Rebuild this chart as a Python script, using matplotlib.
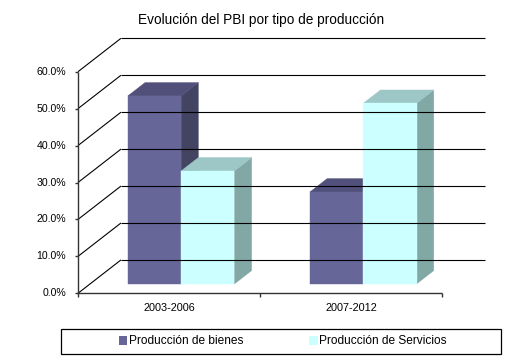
import matplotlib
matplotlib.use('Agg')
import matplotlib.pyplot as plt
from matplotlib.patches import Polygon, Rectangle, Patch

plt.rcParams['font.family'] = ['Liberation Sans', 'DejaVu Sans']

title = "Evolución del PBI por tipo de producción"
categories = ["2003-2006", "2007-2012"]
series_names = ["Producción de bienes", "Producción de Servicios"]
bienes = [50.9, 24.9]
servicios = [30.6, 48.9]
yticks = [0, 10, 20, 30, 40, 50, 60]
ytick_labels = ["0.0%", "10.0%", "20.0%", "30.0%", "40.0%", "50.0%", "60.0%"]

front_colors = ['#666699', '#CCFFFF']
top_colors = ['#50507A', '#9CC7C6']
side_colors = ['#434362', '#82A8A6']

W, H = 528, 359
fig = plt.figure(figsize=(W / 100, H / 100), dpi=100)
ax = fig.add_axes([0, 0, 1, 1])
ax.set_axis_off()

# layout in pixels
X0, X1 = 78.0, 442.3
Y0, Ytop = 293.3, 71.7
DXp, DYp = 43.0, 33.4
ymax = yticks[-1]
ncat = len(categories)
ux = (X1 - X0) / ncat
uy = (Y0 - Ytop) / ymax
ax.set_xlim(-X0 / ux, (W - X0) / ux)
ax.set_ylim((Y0 - H) / uy, Y0 / uy)
DX = DXp / ux
DY = DYp / uy

def P(x, y, f):
    return (x + f * DX, y + f * DY)

grid_kw = dict(color='black', lw=0.8, solid_capstyle='butt')
for v in yticks:
    ax.plot([DX, ncat + DX], [v + DY, v + DY], **grid_kw)
    ax.plot([0, DX], [v, v + DY], **grid_kw)

axis_kw = dict(color='#333333', lw=1.0, solid_capstyle='butt')
ax.plot([0, 0], [0, ymax], **axis_kw)
ax.plot([0, ncat], [0, 0], **axis_kw)
for v, lab in zip(yticks, ytick_labels):
    ax.plot([-3 / ux, 0], [v, v], **axis_kw)
    ax.text(-12 / ux, v, lab, ha='right', va='center', fontsize=7.6)
for i in range(ncat + 1):
    ax.plot([i, i], [0, -4 / uy], **axis_kw)
for i, c in enumerate(categories):
    ax.text(i + 0.5, -15 / uy, c, ha='center', va='center', fontsize=7.8)

f0, f1 = 0.28, 0.68
bw = 0.2926
series = [bienes, servicios]
for i in range(ncat):
    for s in range(len(series)):
        v = series[s][i]
        xl = i + 0.5 - bw + s * bw
        xr = xl + bw
        front = [P(xl, 0, f0), P(xr, 0, f0), P(xr, v, f0), P(xl, v, f0)]
        top = [P(xl, v, f0), P(xr, v, f0), P(xr, v, f1), P(xl, v, f1)]
        side = [P(xr, 0, f0), P(xr, v, f0), P(xr, v, f1), P(xr, 0, f1)]
        for poly, col in ((side, side_colors[s]), (top, top_colors[s]), (front, front_colors[s])):
            ax.add_patch(Polygon(poly, closed=True, facecolor=col, edgecolor=col, lw=0.3))

fig.text(261 / W, 1 - 20 / H, title, ha='center', va='center', fontsize=9.8)

handles = [Patch(facecolor=front_colors[k], edgecolor='none') for k in range(2)]
fig.legend(handles, series_names, loc='center', bbox_to_anchor=(283 / W, 1 - 341.5 / H),
           ncol=2, frameon=False, fontsize=8.6, handlelength=0.7, handleheight=0.7,
           handletextpad=0.15, columnspacing=5.5, borderpad=0.2)
fig.add_artist(Rectangle((61 / W, 1 - 354 / H), 440 / W, 25 / H, transform=fig.transFigure,
                         fill=False, edgecolor='black', lw=0.9))

fig.savefig('out.png', dpi=100)
